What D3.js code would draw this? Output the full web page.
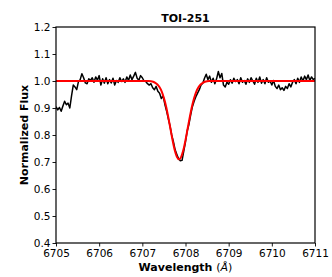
<!DOCTYPE html>
<html><head><meta charset="utf-8">
<script src="https://cdn.jsdelivr.net/npm/d3@7"></script>
<style>body{margin:0;background:#fff}svg{display:block}text{font-family:"DejaVu Sans",sans-serif}</style>
</head><body><svg id="c" width="332" height="277"></svg>
<script>
const title = "TOI-251";
const xTicks = [6705, 6706, 6707, 6708, 6709, 6710, 6711];
const yTicks = [0.4, 0.5, 0.6, 0.7, 0.8, 0.9, 1.0, 1.1, 1.2];
const obsStart = 6705.0, obsStep = 0.04;
const obsFlux = [
0.905,0.893,0.902,0.888,0.907,0.925,0.912,0.918,0.900,0.945,
0.985,0.978,0.968,0.998,1.005,1.027,1.012,0.993,0.990,1.008,
1.002,1.012,0.995,1.015,1.003,1.020,0.985,1.008,0.992,1.012,
0.990,1.005,0.993,1.010,0.985,1.002,0.995,1.012,0.998,1.008,
0.995,1.015,1.002,1.022,1.005,1.018,1.032,1.010,1.003,1.020,
1.012,1.000,0.998,0.990,0.985,0.990,0.975,0.968,0.980,0.962,
0.955,0.935,0.945,0.915,0.890,0.862,0.835,0.800,0.775,0.745,
0.728,0.712,0.705,0.706,0.740,0.775,0.815,0.840,0.875,0.905,
0.925,0.942,0.955,0.968,0.985,0.992,1.010,1.025,1.005,1.018,
0.995,1.010,0.990,1.008,1.035,1.012,1.028,0.985,0.978,0.995,
0.988,1.005,0.992,1.010,0.998,1.005,0.990,1.012,0.995,1.002,
0.988,1.008,0.995,1.012,1.000,0.988,1.010,0.995,1.015,0.992,
1.005,0.990,1.012,0.995,1.000,0.985,1.002,0.980,0.972,0.985,
0.968,0.975,0.965,0.980,0.972,0.990,0.978,0.995,1.005,0.990,
1.010,0.995,1.015,1.000,1.018,1.005,1.022,1.002,1.015,1.005,
1.010];
const modelWave = [6705.00,6707.15,6707.25,6707.30,6707.35,6707.40,6707.45,6707.50,6707.55,6707.60,6707.65,6707.70,6707.75,6707.80,6707.85,6707.90,6707.95,6708.00,6708.05,6708.10,6708.15,6708.20,6708.25,6708.30,6708.35,6708.40,6708.45,6708.55,6711.00];
const modelFlux = [1.000,1.000,0.997,0.993,0.987,0.977,0.961,0.937,0.906,0.867,0.824,0.781,0.744,0.719,0.710,0.719,0.744,0.781,0.824,0.867,0.906,0.937,0.961,0.977,0.987,0.993,0.997,1.000,1.000];

const svg = d3.select("#c");
const L = 56, R = 315, T = 27, B = 243;
const x = d3.scaleLinear().domain([6705, 6711]).range([L, R]);
const y = d3.scaleLinear().domain([0.4, 1.2]).range([B, T]);

const obs = obsFlux.map((f, i) => [obsStart + i * obsStep, f]);
const model = modelWave.map((w, i) => [w, modelFlux[i]]);

svg.append("clipPath").attr("id","clp").append("rect")
  .attr("x", L).attr("y", T).attr("width", R-L).attr("height", B-T);
const g = svg.append("g").attr("clip-path","url(#clp)");
g.append("path").datum(obs)
  .attr("d", d3.line().x(d=>x(d[0])).y(d=>y(d[1])))
  .attr("fill","none").attr("stroke","#000").attr("stroke-width",1.5).attr("stroke-linejoin","round");
g.append("path").datum(model)
  .attr("d", d3.line().curve(d3.curveMonotoneX).x(d=>x(d[0])).y(d=>y(d[1])))
  .attr("fill","none").attr("stroke","#ff0000").attr("stroke-width",2);

const xa = svg.append("g").attr("transform",`translate(0,${B})`)
  .call(d3.axisBottom(x).tickValues(xTicks).tickFormat(d3.format("d")).tickSize(3.5).tickPadding(3.5));
const ya = svg.append("g").attr("transform",`translate(${L},0)`)
  .call(d3.axisLeft(y).tickValues(yTicks).tickFormat(d3.format(".1f")).tickSize(3.5).tickPadding(2));
[xa, ya].forEach(a => {
  a.select(".domain").remove();
  a.selectAll("line").attr("stroke","#000").attr("stroke-width",0.9);
  a.selectAll("text").attr("font-size","10.5px").attr("fill","#000").attr("font-family","DejaVu Sans");
});
svg.append("rect").attr("x",L).attr("y",T).attr("width",R-L).attr("height",B-T)
  .attr("fill","none").attr("stroke","#000").attr("stroke-width",1.2);

svg.append("text").attr("x",(L+R)/2).attr("y",22).attr("text-anchor","middle")
  .attr("font-size","11px").attr("font-weight","bold").text(title);
const xl = svg.append("text").attr("x",(L+R)/2).attr("y",271).attr("text-anchor","middle")
  .attr("font-size","11px");
xl.append("tspan").attr("font-weight","bold").text("Wavelength ");
xl.append("tspan").text("(");
xl.append("tspan").attr("font-style","italic").text("Å");
xl.append("tspan").text(")");
svg.append("text").attr("transform",`translate(28,${(T+B)/2}) rotate(-90)`).attr("text-anchor","middle")
  .attr("font-size","11px").attr("font-weight","bold").text("Normalized Flux");
</script></body></html>
